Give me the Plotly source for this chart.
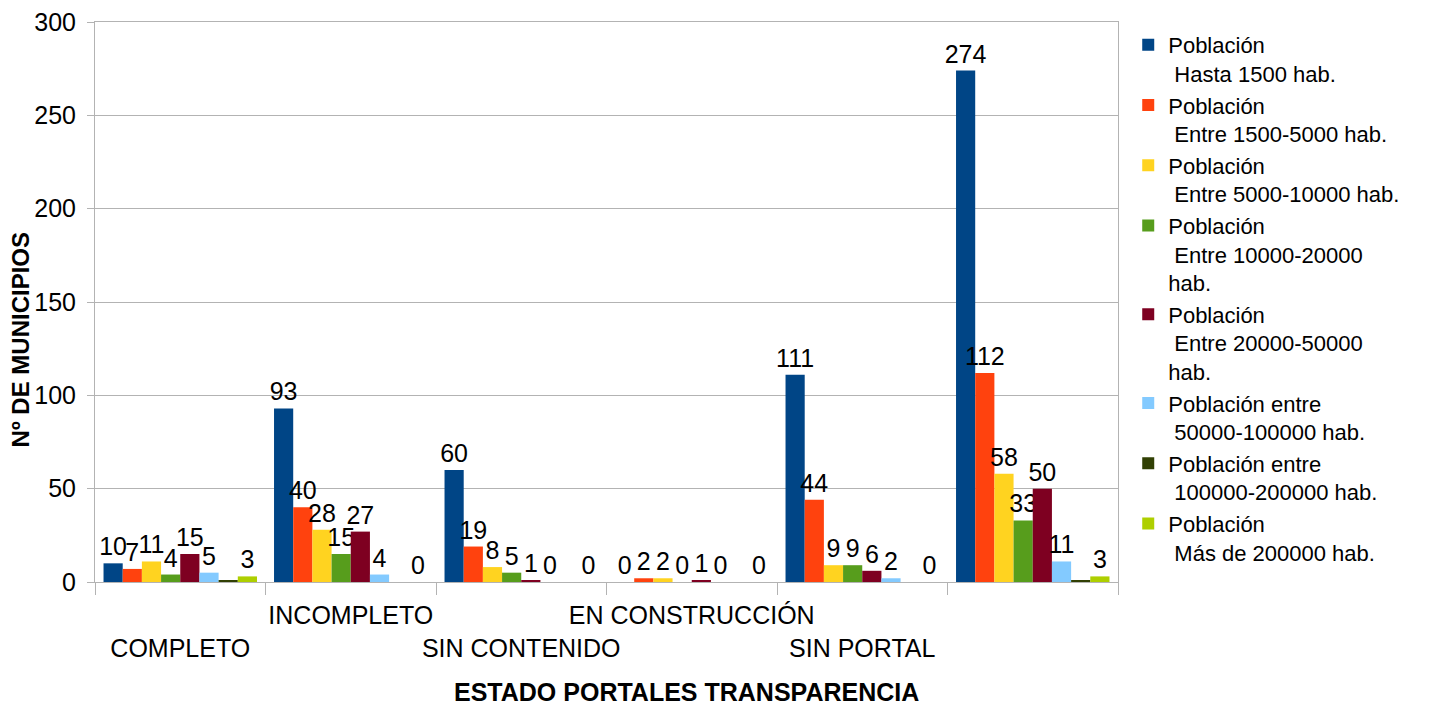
import plotly.graph_objects as go

CATEGORIES = ["COMPLETO", "INCOMPLETO", "SIN CONTENIDO", "EN CONSTRUCCIÓN", "SIN PORTAL", ""]

SERIES_NAMES = [
    "Población<br> Hasta 1500 hab.",
    "Población<br> Entre 1500-5000 hab.",
    "Población<br> Entre 5000-10000 hab.",
    "Población<br> Entre 10000-20000<br>hab.",
    "Población<br> Entre 20000-50000<br>hab.",
    "Población entre<br> 50000-100000 hab.",
    "Población entre<br> 100000-200000 hab.",
    "Población<br> Más de 200000 hab.",
]

HASTA_1500 = [10, 93, 60, 0, 111, 274]
E_1500_5000 = [7, 40, 19, 2, 44, 112]
E_5000_10000 = [11, 28, 8, 2, 9, 58]
E_10000_20000 = [4, 15, 5, 0, 9, 33]
E_20000_50000 = [15, 27, 1, 1, 6, 50]
E_50000_100000 = [5, 4, 0, 0, 2, 11]
E_100000_200000 = [1, 0, 0, 0, 0, 1]
MAS_200000 = [3, 0, 0, 0, 0, 3]

VALUES = [HASTA_1500, E_1500_5000, E_5000_10000, E_10000_20000,
          E_20000_50000, E_50000_100000, E_100000_200000, MAS_200000]
SHOW_LABELS = [True, True, True, True, True, True, False, True]

COLORS = ["#004586", "#ff420e", "#ffd320", "#579d1c",
          "#7e0021", "#83caff", "#314004", "#aecf00"]

FONT = "Liberation Sans, Arial, sans-serif"

x = list(range(len(CATEGORIES)))
# staggered category labels like the original
tick_text = [("<br>" + c) if i % 2 == 0 else c for i, c in enumerate(CATEGORIES)]

fig = go.Figure()
for name, vals, col, lab in zip(SERIES_NAMES, VALUES, COLORS, SHOW_LABELS):
    fig.add_trace(go.Bar(
        x=x, y=vals, name=name,
        marker=dict(color=col, line=dict(width=0)),
        text=[str(v) for v in vals] if lab else None,
        textposition="outside",
        textfont=dict(size=25, color="black", family=FONT),
        constraintext="none",
        cliponaxis=False,
    ))

# page body adds an 8px margin, so the figure is 8px smaller than the window
fig.update_layout(
    barmode="group",
    bargap=0.1,
    bargroupgap=0,
    width=1445, height=698,
    margin=dict(l=87, r=335, t=14, b=124, autoexpand=False),
    paper_bgcolor="white", plot_bgcolor="white",
    font=dict(family=FONT, size=25, color="black"),
    legend=dict(x=1.01, y=0.977, xref="paper", yref="container",
                yanchor="top", xanchor="left",
                font=dict(size=22), valign="top",
                itemsizing="constant", maxheight=700),
    xaxis=dict(
        range=[-0.5, len(CATEGORIES) - 0.5],
        tickmode="array", tickvals=x, ticktext=tick_text,
        ticks="", showgrid=False, tickangle=0, automargin=False,
        showline=True, linecolor="#b3b3b3", linewidth=1, mirror=True,
        ticklabelstandoff=11, ticklabeloverflow="allow",
        minor=dict(ticks="outside", ticklen=12, tick0=-0.5, dtick=1,
                   tickcolor="#b3b3b3", showgrid=False),
        tickfont=dict(size=25),
    ),
    yaxis=dict(
        range=[0, 300], dtick=50, automargin=False,
        showgrid=True, gridcolor="#b3b3b3", gridwidth=1,
        showline=True, linecolor="#b3b3b3", mirror=True,
        ticks="outside", ticklen=7, tickcolor="#b3b3b3",
        ticklabelstandoff=6, ticklabeloverflow="allow",
        tickfont=dict(size=25), zeroline=False,
    ),
    annotations=[
        dict(text="<b>Nº DE MUNICIPIOS</b>", xref="paper", yref="paper",
             x=-0.073, y=0.432, textangle=-90, showarrow=False,
             font=dict(size=24), xanchor="center", yanchor="middle"),
        dict(text="<b>ESTADO PORTALES TRANSPARENCIA</b>", xref="paper", yref="paper",
             x=0.578, y=-0.196, showarrow=False,
             font=dict(size=25), xanchor="center", yanchor="middle"),
    ],
)

fig.write_html("out.html")
